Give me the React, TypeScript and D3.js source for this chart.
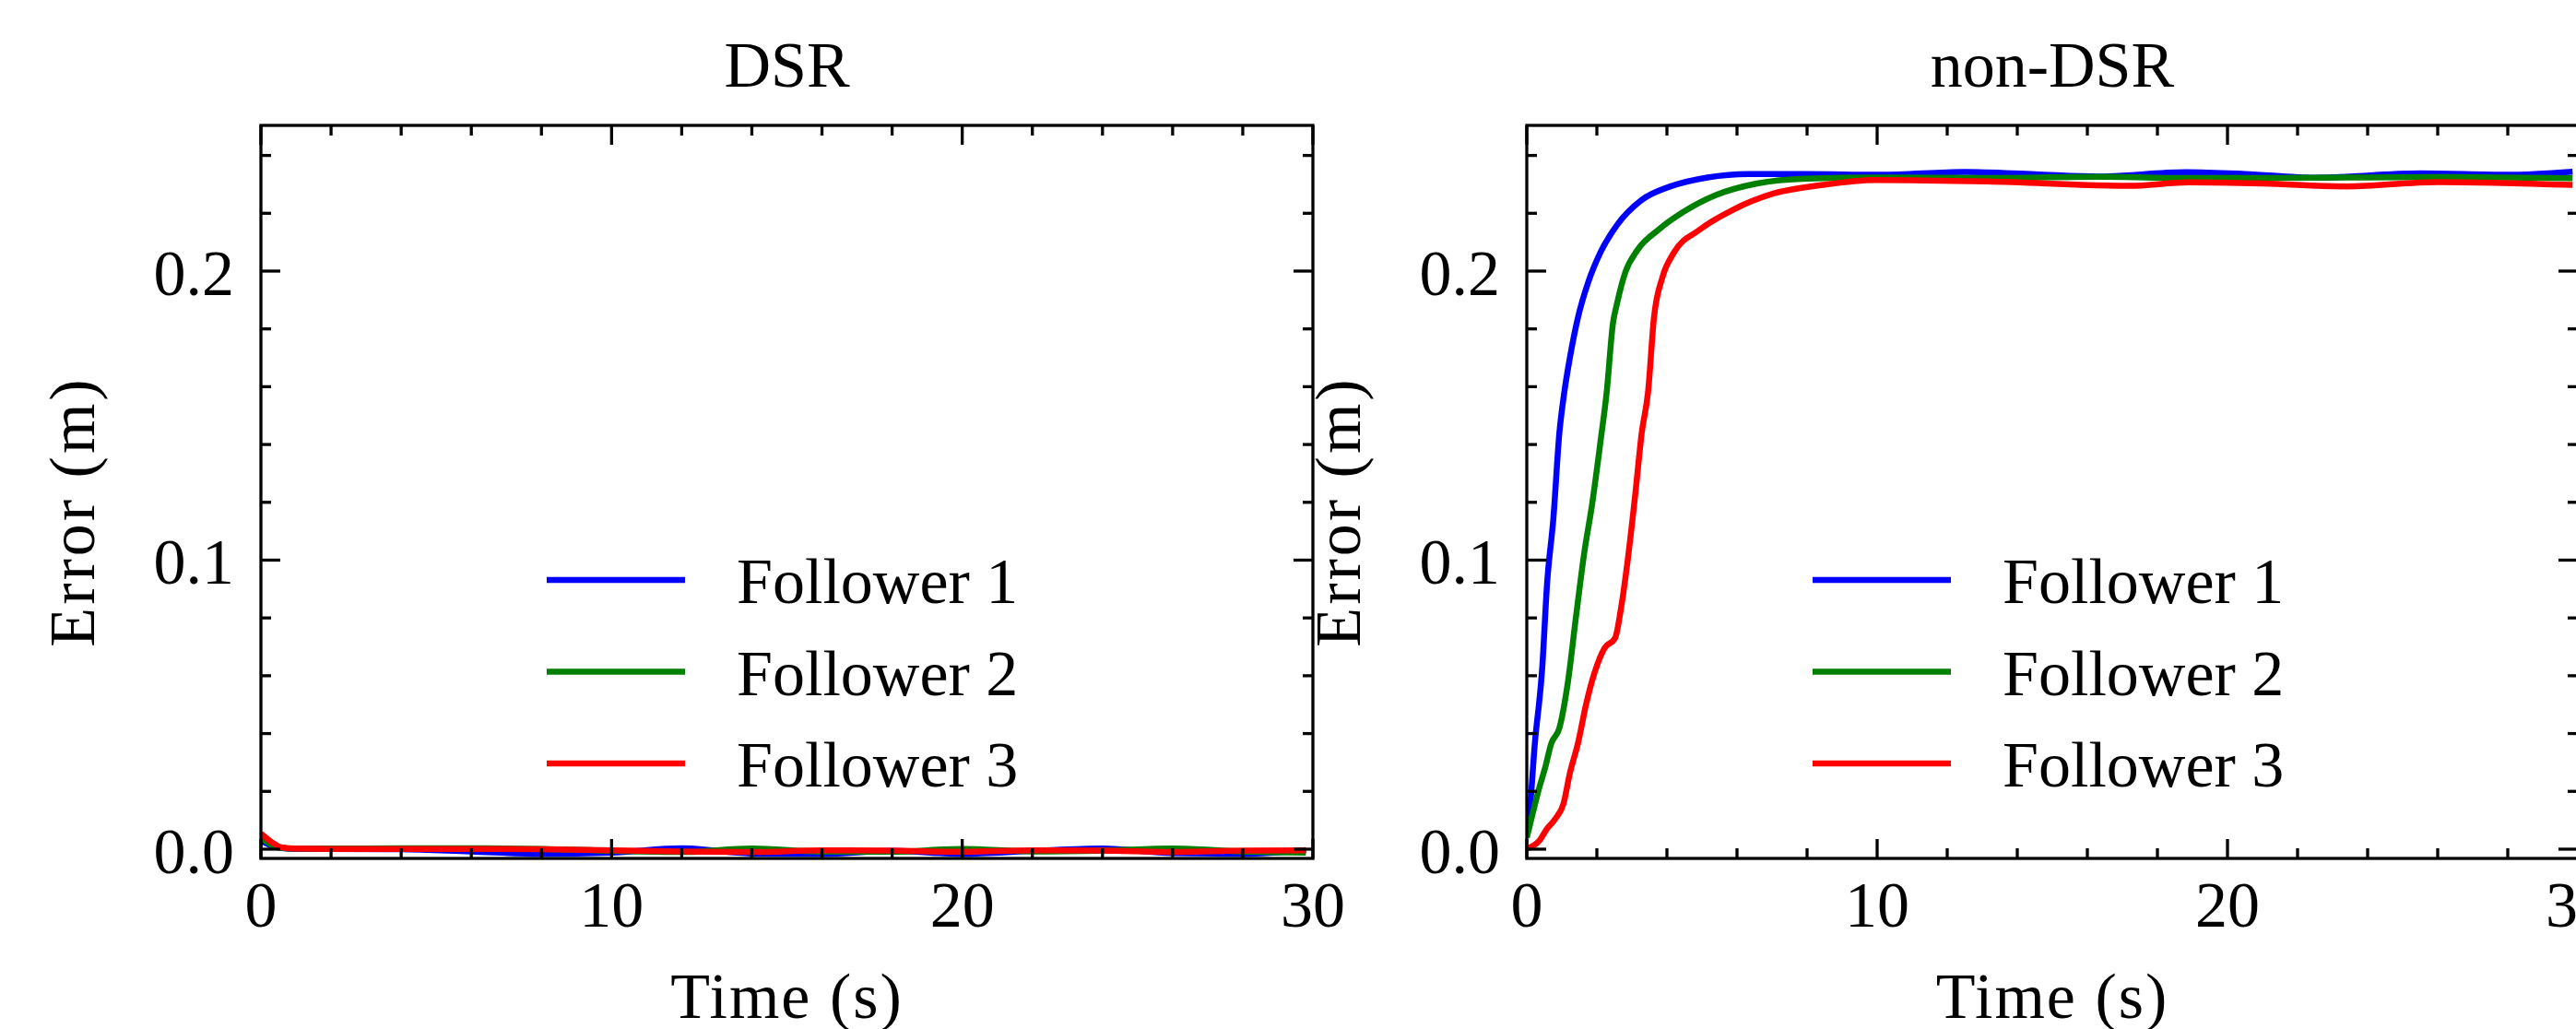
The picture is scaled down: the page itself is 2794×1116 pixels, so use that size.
import React from "react";
import * as d3 from "d3";

// DSR panel: all followers sampled on the same time grid
const dsrTime = [0, 0.3, 0.6, 1, 2, 4, 6, 8, 10, 12, 14, 16, 18, 20, 22, 24, 26, 28, 29.8];
const dsrF1 = [0.003, 0.0012, 0.0004, 0.0001, 0.0001, 0, -0.0008, -0.0016, -0.0012, 0.0003, -0.0015, -0.0016, -0.0006, -0.0016, -0.0006, 0.0002, -0.0014, -0.0016, -0.0003];
const dsrF2 = [0.004, 0.0015, 0.0005, 0.0002, 0.0002, 0.0003, 0.0003, 0.0001, -0.0006, -0.001, 0.0002, -0.0008, -0.0009, 0.0001, -0.0008, -0.0005, 0.0002, -0.0008, -0.0012];
const dsrF3 = [0.0054, 0.0025, 0.0006, 0.0002, 0.0001, 0.0001, 0.0001, 0.0, -0.0004, -0.0008, -0.001, -0.0004, -0.0005, -0.0009, -0.0004, -0.0005, -0.001, -0.0005, -0.0004];

// non-DSR panel, one time list per follower
const nonF1Time = [0, 0.05, 0.23, 0.44, 0.58, 0.76, 0.93, 1.07, 1.23, 1.46, 1.75, 2.1, 2.58, 3.28, 4.1, 5.16, 6.33, 8, 10.1, 12.5, 14.5, 16.3, 18.8, 20.5, 22.5, 25.5, 28, 29.85];
const nonF1 = [0.005, 0.0089, 0.0366, 0.0626, 0.092, 0.1146, 0.144, 0.158, 0.17, 0.1839, 0.196, 0.2064, 0.216, 0.2246, 0.2293, 0.2324, 0.2336, 0.2336, 0.2333, 0.2343, 0.2335, 0.2327, 0.2342, 0.2336, 0.2323, 0.2338, 0.2333, 0.2344];
const nonF2Time = [0, 0.17, 0.35, 0.52, 0.7, 0.93, 1.17, 1.4, 1.64, 1.87, 2.1, 2.28, 2.46, 2.58, 2.81, 3.16, 3.75, 4.45, 5.4, 6.57, 7.98, 10.1, 13, 16.3, 19, 22.5, 26, 29.85];
const nonF2 = [0.004, 0.0124, 0.021, 0.028, 0.0366, 0.0419, 0.0575, 0.08, 0.1025, 0.1198, 0.1407, 0.158, 0.182, 0.189, 0.1995, 0.2073, 0.2142, 0.2203, 0.2263, 0.2303, 0.232, 0.2324, 0.2322, 0.2326, 0.2322, 0.2323, 0.2325, 0.2321];
const nonF3Time = [0, 0.35, 0.58, 0.82, 1.05, 1.23, 1.46, 1.7, 1.93, 2.22, 2.52, 2.69, 2.87, 3.1, 3.28, 3.46, 3.63, 3.87, 4.2, 4.92, 5.87, 7.04, 8.45, 9.97, 13.15, 17.2, 18.9, 21, 23.4, 26, 29.85];
const nonF3 = [0.0002, 0.0028, 0.0071, 0.0106, 0.0158, 0.0263, 0.0366, 0.0505, 0.0609, 0.0696, 0.073, 0.0834, 0.099, 0.1232, 0.144, 0.158, 0.1839, 0.1978, 0.2064, 0.2142, 0.2211, 0.2268, 0.2298, 0.2315, 0.231, 0.2295, 0.2307, 0.2303, 0.2293, 0.2308, 0.2298];

const seriesNames = ["Follower 1", "Follower 2", "Follower 3"];
const seriesColors = ["#0000ff", "#008000", "#ff0000"];
const panelTitles = ["DSR", "non-DSR"];

const xMajor = [0, 10, 20, 30];
const xMinor = d3.range(0, 31, 2).filter((v) => v % 10 !== 0);
const yMajor = [0, 0.1, 0.2];
const yMinor = [0.02, 0.04, 0.06, 0.08, 0.12, 0.14, 0.16, 0.18, 0.22, 0.24];

const W = 2794;
const H = 1116;
const top = 136;
const bottom = 931;
const FONT = "'Liberation Serif', 'Times New Roman', serif";
const FS = 70;

type Series = { t: number[]; v: number[] };

const Panel = ({ title, x0, x1, series, id }: { title: string; x0: number; x1: number; series: Series[]; id: string }) => {
  const x = d3.scaleLinear().domain([0, 30]).range([x0, x1]);
  const y = d3.scaleLinear().domain([-0.0032, 0.2504]).range([bottom, top]);
  const line = d3
    .line<[number, number]>()
    .x((d) => x(d[0]))
    .y((d) => y(d[1]))
    .curve(d3.curveMonotoneX);

  const tw = 3.3;
  const majL = 21;
  const minL = 11;

  return (
    <g>
      <defs>
        <clipPath id={id}>
          <rect x={x0} y={top} width={x1 - x0} height={bottom - top} />
        </clipPath>
      </defs>
      <text x={(x0 + x1) / 2} y={94} textAnchor="middle" fontFamily={FONT} fontSize={FS}>
        {title}
      </text>

      {/* data */}
      <g clipPath={`url(#${id})`}>
        {series.map((s, i) => (
          <path
            key={i}
            d={line(s.t.map((t, k) => [t, s.v[k]] as [number, number])) || ""}
            fill="none"
            stroke={seriesColors[i]}
            strokeWidth={6.5}
            strokeLinejoin="round"
          />
        ))}
      </g>

      {/* ticks, inward on all four sides */}
      <g stroke="#000" strokeWidth={tw}>
        {xMajor.map((v) => (
          <g key={"xM" + v}>
            <line x1={x(v)} x2={x(v)} y1={bottom} y2={bottom - majL} />
            <line x1={x(v)} x2={x(v)} y1={top} y2={top + majL} />
          </g>
        ))}
        {xMinor.map((v) => (
          <g key={"xm" + v}>
            <line x1={x(v)} x2={x(v)} y1={bottom} y2={bottom - minL} />
            <line x1={x(v)} x2={x(v)} y1={top} y2={top + minL} />
          </g>
        ))}
        {yMajor.map((v) => (
          <g key={"yM" + v}>
            <line x1={x0} x2={x0 + majL} y1={y(v)} y2={y(v)} />
            <line x1={x1} x2={x1 - majL} y1={y(v)} y2={y(v)} />
          </g>
        ))}
        {yMinor.map((v) => (
          <g key={"ym" + v}>
            <line x1={x0} x2={x0 + minL} y1={y(v)} y2={y(v)} />
            <line x1={x1} x2={x1 - minL} y1={y(v)} y2={y(v)} />
          </g>
        ))}
      </g>
      <rect x={x0} y={top} width={x1 - x0} height={bottom - top} fill="none" stroke="#000" strokeWidth={3.3} />

      {/* tick labels */}
      <g fontFamily={FONT} fontSize={FS}>
        {xMajor.map((v) => (
          <text key={"xl" + v} x={x(v)} y={1005} textAnchor="middle">
            {v}
          </text>
        ))}
        {yMajor.map((v) => (
          <text key={"yl" + v} x={x0 - 29} y={y(v) + 26} textAnchor="end">
            {v.toFixed(1)}
          </text>
        ))}
      </g>

      {/* axis labels */}
      <text x={(x0 + x1) / 2} y={1104} textAnchor="middle" fontFamily={FONT} fontSize={FS} letterSpacing={2}>
        Time (s)
      </text>
      <text
        transform={`translate(${x0 - 181},555) rotate(-90)`}
        textAnchor="middle"
        fontFamily={FONT}
        fontSize={FS}
        letterSpacing={3}
      >
        Error (m)
      </text>

      {/* legend */}
      {seriesNames.map((name, i) => {
        const ly = 629 + i * 99.5;
        return (
          <g key={name}>
            <line x1={x0 + 310} x2={x0 + 460} y1={ly} y2={ly} stroke={seriesColors[i]} strokeWidth={6.5} />
            <text x={x0 + 516} y={ly + 25} fontFamily={FONT} fontSize={FS}>
              {name}
            </text>
          </g>
        );
      })}
    </g>
  );
};

export default function App() {
  const dsr: Series[] = [
    { t: dsrTime, v: dsrF1 },
    { t: dsrTime, v: dsrF2 },
    { t: dsrTime, v: dsrF3 },
  ];
  const nonDsr: Series[] = [
    { t: nonF1Time, v: nonF1 },
    { t: nonF2Time, v: nonF2 },
    { t: nonF3Time, v: nonF3 },
  ];
  return (
    <svg
      width={W}
      height={H}
      viewBox={`0 0 ${W} ${H}`}
      style={{ position: "absolute", left: 0, top: 0, background: "#fff" }}
    >
      <rect width={W} height={H} fill="#fff" />
      <Panel title={panelTitles[0]} x0={283} x1={1424} series={dsr} id="clip-dsr" />
      <Panel title={panelTitles[1]} x0={1656} x1={2796} series={nonDsr} id="clip-non" />
    </svg>
  );
}
